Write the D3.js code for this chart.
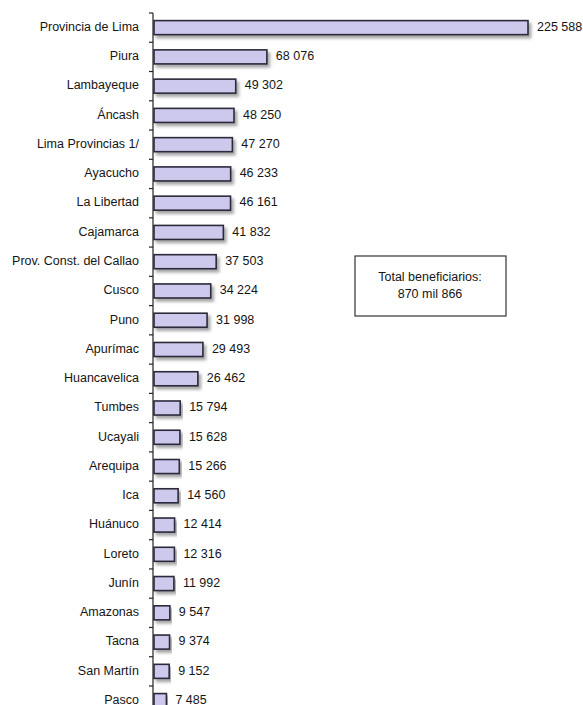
<!DOCTYPE html>
<html>
<head>
<meta charset="utf-8">
<script src="https://cdn.jsdelivr.net/npm/d3@7/dist/d3.min.js"></script>
<style>
  body { margin: 0; background: #fff; }
  text { font-family: "Liberation Sans", Arial, sans-serif; font-size: 12.5px; fill: #151515; }
</style>
</head>
<body>
<script>
var regiones = ["Provincia de Lima","Piura","Lambayeque","Áncash","Lima Provincias 1/","Ayacucho","La Libertad","Cajamarca","Prov. Const. del Callao","Cusco","Puno","Apurímac","Huancavelica","Tumbes","Ucayali","Arequipa","Ica","Huánuco","Loreto","Junín","Amazonas","Tacna","San Martín","Pasco"];
var beneficiarios = [225588,68076,49302,48250,47270,46233,46161,41832,37503,34224,31998,29493,26462,15794,15628,15266,14560,12414,12316,11992,9547,9374,9152,7485];
var totalTexto = ["Total beneficiarios:", "870 mil 866"];

var svg = d3.select("body").append("svg").attr("width",583).attr("height",705);

var defs = svg.append("defs");
var f = defs.append("filter").attr("id","sombra").attr("x","-5%").attr("y","-30%").attr("width","115%").attr("height","190%");
f.append("feDropShadow").attr("dx",2.5).attr("dy",3).attr("stdDeviation",1.6).attr("flood-color","#000").attr("flood-opacity",0.35);

var x0 = 154;
var step = 29.26;
var y = d3.scaleBand().domain(regiones).range([13, 13 + step*regiones.length]).paddingInner(0.52).paddingOuter(0.26);
var x = d3.scaleLinear().domain([0,225588]).range([x0, 528]);

// eje vertical con marcas entre categorias
var ejeY = svg.append("g");
ejeY.append("line").attr("x1",153).attr("x2",153).attr("y1",13).attr("y2",705).attr("stroke","#222").attr("stroke-width",1.2);
ejeY.selectAll("line.tick")
      .data(d3.range(regiones.length+1))
      .enter().append("line")
      .attr("class","tick")
      .attr("x1",149).attr("x2",153)
      .attr("y1",function(d){return 13 + d*step;})
      .attr("y2",function(d){return 13 + d*step;})
      .attr("stroke","#222").attr("stroke-width",1.2);

svg.selectAll("text.cat")
      .data(regiones)
      .enter().append("text")
      .attr("class","cat")
      .attr("x",139)
      .attr("y",function(d){return y(d)+y.bandwidth()/2;})
      .attr("dominant-baseline","middle")
      .attr("text-anchor","end")
      .text(function(d){return d;});

svg.selectAll("rect.bar")
      .data(beneficiarios)
      .enter().append("rect")
      .attr("class","bar")
      .attr("x",x0)
      .attr("y",function(d,i){return y(regiones[i]);})
      .attr("width",function(d){return x(d)-x0;})
      .attr("height",y.bandwidth())
      .attr("fill","#cdc9ec")
      .attr("stroke","#2a2a3a")
      .attr("stroke-width",1.6)
      .attr("filter","url(#sombra)");

var fmt = function(v){ return d3.format(",")(v).replace(/,/g," "); };

svg.selectAll("text.val")
      .data(beneficiarios)
      .enter().append("text")
      .attr("class","val")
      .attr("x",function(d){return x(d)+9;})
      .attr("y",function(d,i){return y(regiones[i])+y.bandwidth()/2;})
      .attr("dominant-baseline","middle")
      .text(function(d){return fmt(d);});

// recuadro del total
svg.append("rect").attr("x",355).attr("y",256).attr("width",151).attr("height",60)
      .attr("fill","#fff").attr("stroke","#333").attr("stroke-width",1.2);
svg.append("text").selectAll("tspan")
      .data(totalTexto)
      .enter().append("tspan")
      .attr("x",430)
      .attr("y",function(d,i){return 278+i*17;})
      .attr("text-anchor","middle")
      .attr("dominant-baseline","middle")
      .text(function(d){return d;});
</script>
</body>
</html>
